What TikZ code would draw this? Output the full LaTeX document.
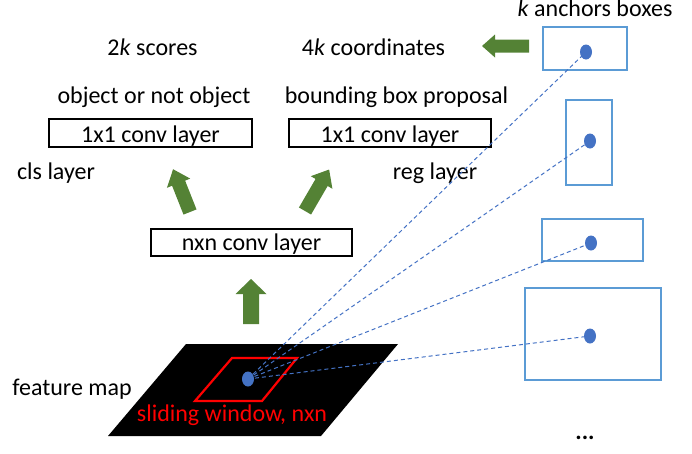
\documentclass[tikz,border=0pt]{standalone}
\usepackage{fontspec}
\setmainfont{Carlito}
\usetikzlibrary{shapes.geometric}
\definecolor{arrowgreen}{HTML}{548235}
\definecolor{dotblue}{HTML}{4472C4}
\definecolor{boxblue}{HTML}{5B9BD5}
\newcommand{\greenarrow}[6]{%
  \begin{scope}[shift={#1},rotate=#2]
    \fill[arrowgreen] (0,{-#4}) -- ({#3-#6},{-#4}) -- ({#3-#6},{-#5}) -- (#3,0)
      -- ({#3-#6},{#5}) -- ({#3-#6},{#4}) -- (0,{#4}) -- cycle;
  \end{scope}}
\begin{document}
\begin{tikzpicture}[x=1pt,y=-1pt,
  every node/.style={font=\fontsize{24}{28}\selectfont},
  txt/.style={anchor=base,inner sep=0pt},
  layerbox/.style={draw=black,line width=1.3pt,inner sep=0pt,text depth=0pt},
  anchorbox/.style={draw=boxblue,line width=2.5pt},
  bluedot/.style={ellipse,fill=dotblue,inner sep=0pt,minimum width=12pt,minimum height=15pt},
  link/.style={draw=dotblue,line width=1pt,dash pattern=on 4pt off 3pt}]
\useasboundingbox (0,0) rectangle (692,453);

% top texts
\node[txt] (ka) at (595,16.5) {\textit{k} anchors boxes};
\node[txt] (s2k) at (152.5,55) {2\textit{k} scores};
\node[txt] (c4k) at (373.5,55) {4\textit{k} coordinates};
\node[txt] (obj) at (154,103) {object or not object};
\node[txt] (bbp) at (396.5,103) {bounding box proposal};
\node[txt] (cls) at (56,179) {cls layer};
\node[txt] (reg) at (435,179) {reg layer};
\node[txt] (fm) at (72,395) {feature map};
\node[txt] (dots) at (585,439) {\textbf{...}};

% layer boxes
\node[layerbox,minimum width=203pt,minimum height=28pt,text height=19.4pt] (clsbox) at (150.5,133) {1x1 conv layer};
\node[layerbox,minimum width=202pt,minimum height=28pt,text height=19.4pt] (regbox) at (390,133) {1x1 conv layer};
\node[layerbox,minimum width=201pt,minimum height=27pt,text height=16.4pt] (nxnbox) at (251.5,242.5) {nxn conv layer};

% green block arrows
\greenarrow{(529,46)}{180}{47}{6.5}{11.5}{13}
\greenarrow{(251,324)}{90}{45}{8}{15.5}{15}
\greenarrow{(190,212)}{111.6}{46}{7}{12.5}{15}
\greenarrow{(305,211)}{59.8}{48}{7}{12.5}{15}

% anchor boxes
\draw[anchorbox] (543,27) rectangle (627,70);
\draw[anchorbox] (566,100) rectangle (612,185);
\draw[anchorbox] (542,219) rectangle (643,261);
\draw[anchorbox] (525,288) rectangle (661,380);

% feature map
\fill[black] (186,344) -- (398,344) -- (321,436) -- (108,436) -- cycle;
\draw[red,line width=2.2pt] (232,358) -- (297,358) -- (262,401) -- (195,401) -- cycle;
\node[txt,text=red] (sw) at (232,421.7) {sliding window, nxn};

% dots
\coordinate (fc) at (248,379);
\coordinate (c1) at (586,52);
\coordinate (c2) at (590,141);
\coordinate (c3) at (591,243);
\coordinate (c4) at (590,336);
\draw[link] (fc) -- (c1);
\draw[link] (fc) -- (c2);
\draw[link] (fc) -- (c3);
\draw[link] (fc) -- (c4);
\node[bluedot] (fdot) at (fc) {};
\node[bluedot] (d1) at (c1) {};
\node[bluedot] (d2) at (c2) {};
\node[bluedot] (d3) at (c3) {};
\node[bluedot] (d4) at (c4) {};
\end{tikzpicture}
\end{document}
